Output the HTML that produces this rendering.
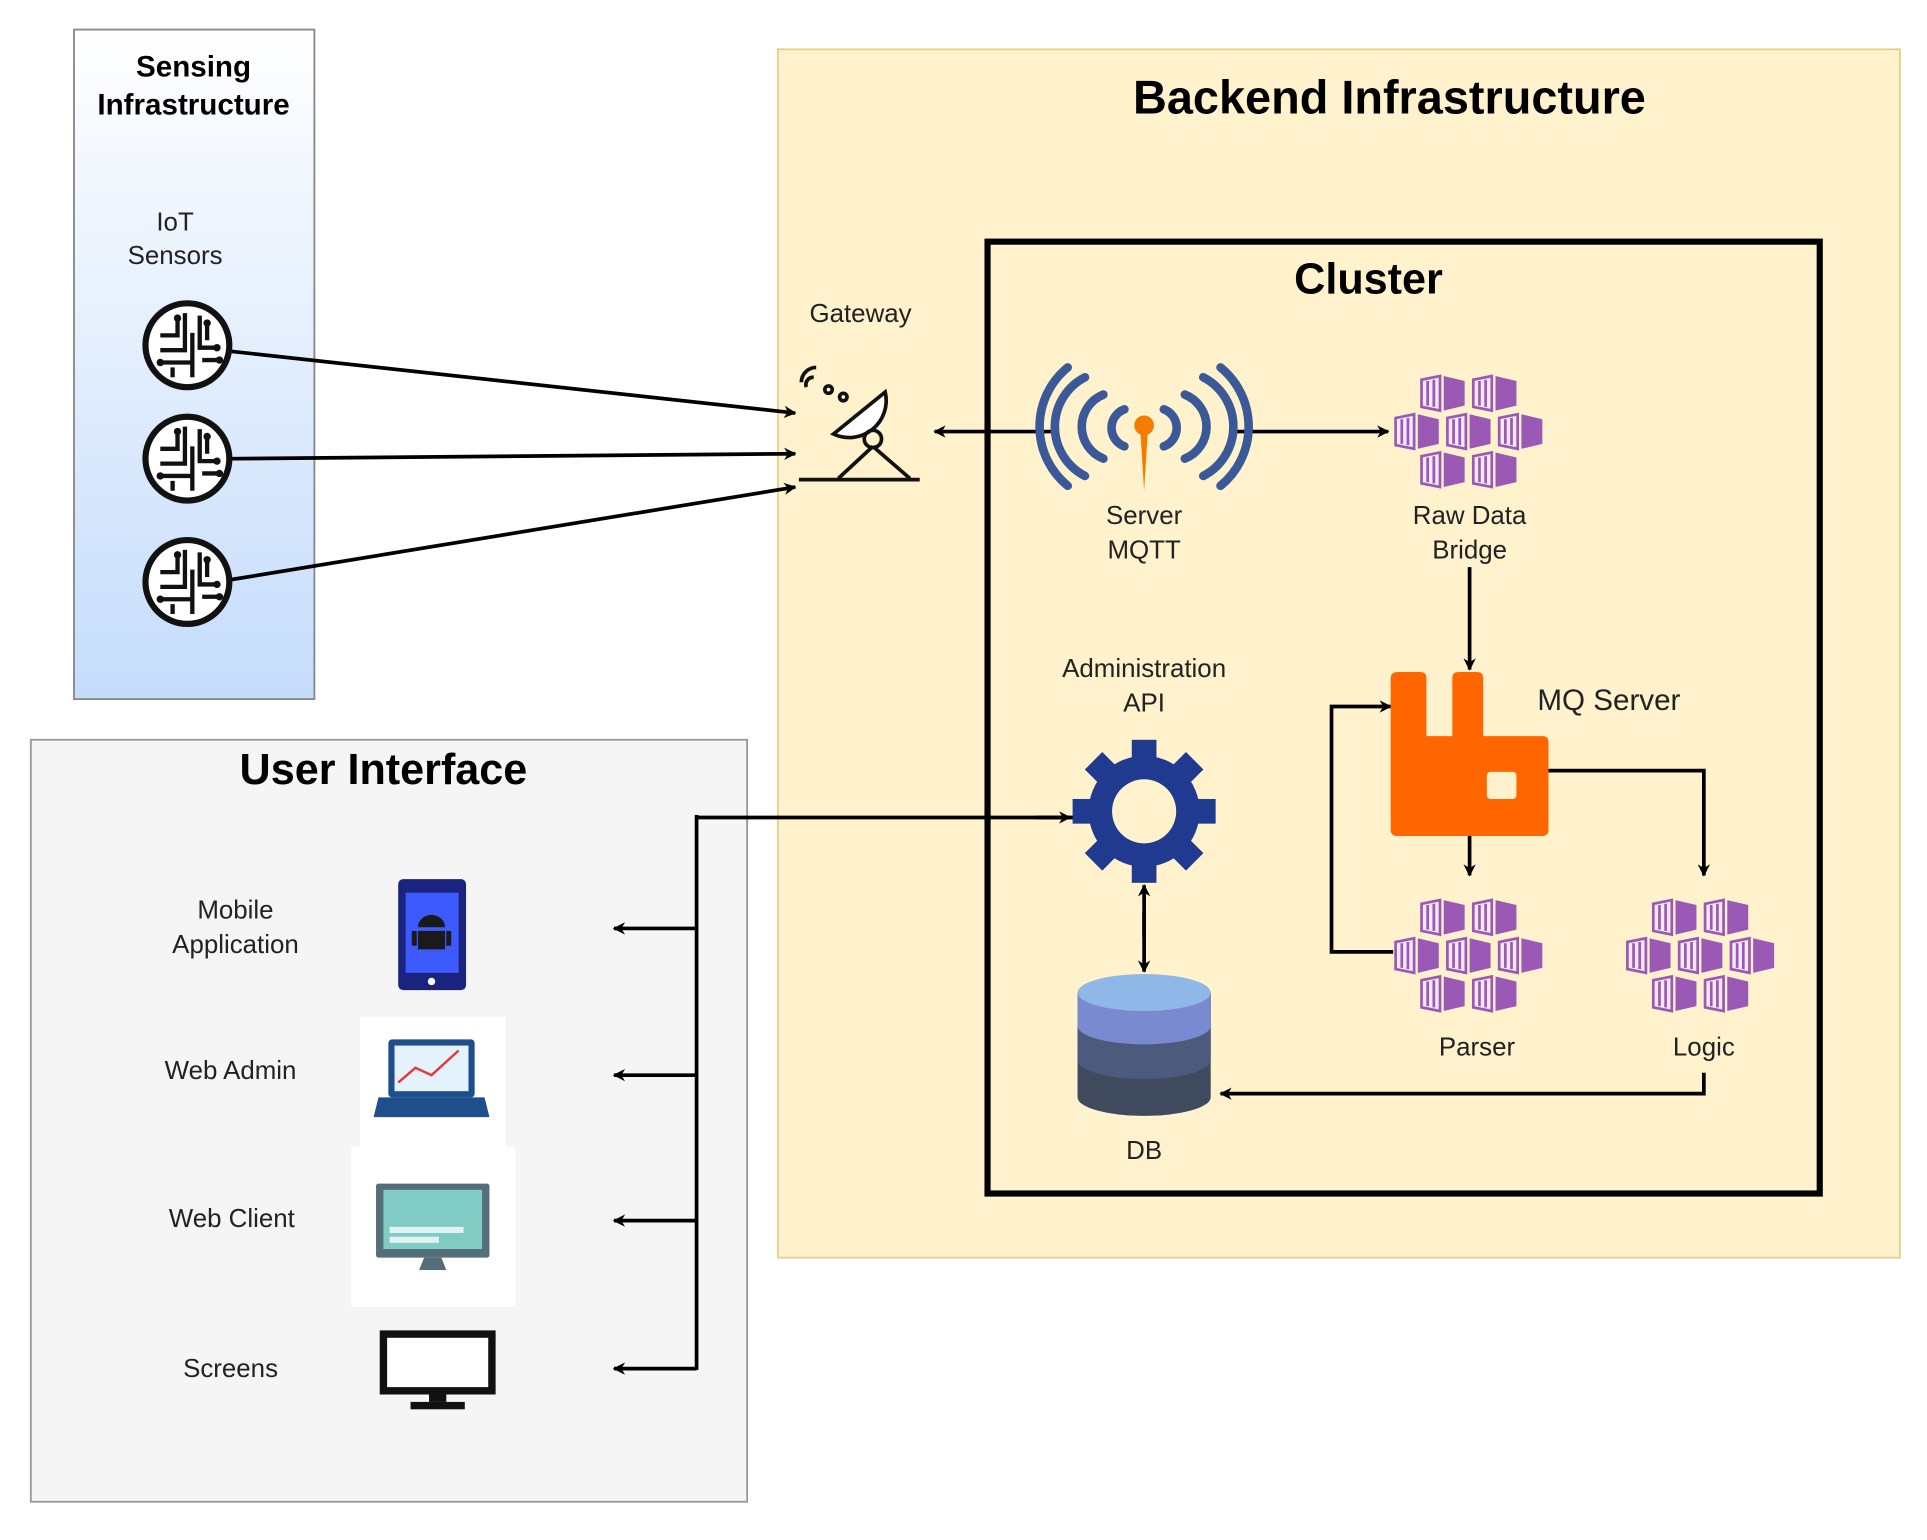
<!DOCTYPE html>
<html><head><meta charset="utf-8"><style>html,body{margin:0;padding:0;background:#fff}svg{display:block}</style></head>
<body>
<svg width="1927" height="1540" viewBox="0 0 1563 1249" preserveAspectRatio="none" xmlns="http://www.w3.org/2000/svg" font-family="Liberation Sans, Arial, sans-serif">
<defs>
<linearGradient id="g1" x1="0" y1="0" x2="0" y2="1"><stop offset="0" stop-color="#ffffff"/><stop offset="1" stop-color="#c5dcfb"/></linearGradient>
<marker id="ah" markerWidth="10" markerHeight="10" refX="9" refY="5" orient="auto" markerUnits="userSpaceOnUse" viewBox="0 0 10 10"><path d="M0,0 L10,5 L0,10 L3,5 z" fill="#000"/></marker>
<g id="cell">
<path d="M-18,-11 L-3,-14 L-3,14 L-18,11 Z" fill="#f5e8f8" stroke="#9b59b6" stroke-width="2.2"/>
<path d="M-13,-10 V10 M-8,-11 V11" stroke="#9b59b6" stroke-width="2.2"/>
<path d="M0,-14 L17,-10 L17,10 L0,14 Z" fill="#9b59b6"/>
</g>
<g id="hexes">
<use href="#cell" x="-21" y="-31"/>
<use href="#cell" x="21" y="-31"/>
<use href="#cell" x="-42" y="0"/>
<use href="#cell" x="0" y="0"/>
<use href="#cell" x="42" y="0"/>
<use href="#cell" x="-21" y="31"/>
<use href="#cell" x="21" y="31"/>
</g>
<g id="sensor">
<circle r="34" fill="#fff" stroke="#111" stroke-width="5"/>
<g stroke="#111" stroke-width="3.5" fill="none">
<path d="M-22,-8 H-8 V-20 M-22,4 H-2 V-26 M-20,14 H4 V-10 M10,-24 V2 H24 M16,-16 V-4 M4,10 V26 M12,12 H26 M-12,18 V26"/>
</g>
<g fill="#111"><circle cx="-8" cy="-22" r="3"/><circle cx="16" cy="-18" r="3"/><circle cx="24" cy="2" r="3"/><circle cx="26" cy="12" r="3"/><circle cx="-22" cy="14" r="3"/></g>
</g>
</defs>

<!-- Sensing -->
<rect x="60" y="24" width="195" height="543" fill="url(#g1)" stroke="#888" stroke-width="1.5"/>
<text x="157" y="62" font-size="24" font-weight="bold" text-anchor="middle">Sensing</text>
<text x="157" y="93" font-size="24" font-weight="bold" text-anchor="middle">Infrastructure</text>
<text x="142" y="187" font-size="21" text-anchor="middle" fill="#222">IoT</text>
<text x="142" y="214" font-size="21" text-anchor="middle" fill="#222">Sensors</text>
<use href="#sensor" x="152" y="280"/>
<use href="#sensor" x="152" y="372"/>
<use href="#sensor" x="152" y="472"/>

<!-- Backend -->
<rect x="631" y="40" width="910" height="980" fill="#fff2cc" stroke="#e6cf8a" stroke-width="1.5"/>
<text x="1127" y="92" font-size="38" font-weight="bold" text-anchor="middle">Backend Infrastructure</text>
<rect x="801" y="196" width="675" height="772" fill="none" stroke="#000" stroke-width="5"/>
<text x="1110" y="238" font-size="35" font-weight="bold" text-anchor="middle">Cluster</text>

<!-- User interface box (under connectors) -->
<rect x="25" y="600" width="581" height="618" fill="#f5f5f5" stroke="#999" stroke-width="1.5"/>
<text x="311" y="636" font-size="35" font-weight="bold" text-anchor="middle">User Interface</text>

<g stroke="#000" stroke-width="3" fill="none">
<line x1="188" y1="285" x2="645" y2="335" marker-end="url(#ah)"/>
<line x1="188" y1="372" x2="645" y2="368" marker-end="url(#ah)"/>
<line x1="188" y1="470" x2="645" y2="395" marker-end="url(#ah)"/>
<line x1="855" y1="350" x2="758" y2="350" marker-end="url(#ah)"/>
<line x1="1000" y1="350" x2="1126" y2="350" marker-end="url(#ah)"/>
<line x1="1192" y1="460" x2="1192" y2="543" marker-end="url(#ah)"/>
<polyline points="1256,625 1382,625 1382,710" marker-end="url(#ah)"/>
<line x1="1192" y1="678" x2="1192" y2="710" marker-end="url(#ah)"/>
<polyline points="1130,772 1080,772 1080,573 1128,573" marker-end="url(#ah)"/>
<polyline points="1382,870 1382,887 990,887" marker-end="url(#ah)"/>
<line x1="928" y1="740" x2="928" y2="788" marker-end="url(#ah)"/>
<line x1="928" y1="760" x2="928" y2="718" marker-end="url(#ah)"/>
<line x1="565" y1="663" x2="880" y2="663" marker-end="url(#ah)"/>
<line x1="840" y1="663" x2="868" y2="663" marker-end="url(#ah)"/>
<line x1="565" y1="661" x2="565" y2="1111"/>
<line x1="565" y1="753" x2="498" y2="753" marker-end="url(#ah)"/>
<line x1="565" y1="872" x2="498" y2="872" marker-end="url(#ah)"/>
<line x1="565" y1="990" x2="498" y2="990" marker-end="url(#ah)"/>
<line x1="565" y1="1110" x2="498" y2="1110" marker-end="url(#ah)"/>
</g>

<!-- Gateway -->
<text x="698" y="261" font-size="21" text-anchor="middle" fill="#222">Gateway</text>
<g stroke="#111" stroke-width="3" fill="none">
<path d="M676,352 L718,318 A30,30 0 0 1 676,352 Z" fill="#fff"/>
<circle cx="708" cy="356" r="7"/>
<path d="M708,362 L680,388 M708,362 L738,388 M648,389 H746"/>
<path d="M650,310 A12,12 0 0 1 662,298 M654,314 A6,6 0 0 1 660,306"/>
<circle cx="672" cy="316" r="3"/><circle cx="684" cy="322" r="3"/>
</g>

<!-- MQTT -->
<g stroke="#3b5998" stroke-width="7" fill="none" stroke-linecap="round">
<path d="M895,320 A28,28 0 0 0 895,372"/><path d="M880,306 A45,45 0 0 0 880,386"/><path d="M866,298 A62,62 0 0 0 866,394"/>
<path d="M961,320 A28,28 0 0 1 961,372"/><path d="M976,306 A45,45 0 0 1 976,386"/><path d="M990,298 A62,62 0 0 1 990,394"/>
<path d="M912,332 A16,16 0 0 0 912,362"/><path d="M944,332 A16,16 0 0 1 944,362"/>
</g>
<circle cx="928" cy="345" r="8" fill="#f57c00"/>
<path d="M925,350 L931,350 L928,398 Z" fill="#f57c00"/>
<text x="928" y="425" font-size="21" text-anchor="middle" fill="#222">Server</text>
<text x="928" y="453" font-size="21" text-anchor="middle" fill="#222">MQTT</text>

<!-- Raw data bridge -->
<use href="#hexes" x="1192" y="350"/>
<text x="1192" y="425" font-size="21" text-anchor="middle" fill="#222">Raw Data</text>
<text x="1192" y="453" font-size="21" text-anchor="middle" fill="#222">Bridge</text>

<!-- MQ server -->
<path d="M1134,545 H1152 Q1157,545 1157,550 V597 H1178 V550 Q1178,545 1183,545 H1198 Q1203,545 1203,550 V597 H1251 Q1256,597 1256,602 V673 Q1256,678 1251,678 H1133 Q1128,678 1128,673 V550 Q1128,545 1134,545 Z" fill="#ff6600"/>
<rect x="1206" y="626" width="24" height="22" rx="3" fill="#fff2cc"/>
<text x="1305" y="576" font-size="24" text-anchor="middle" fill="#222">MQ Server</text>

<use href="#hexes" x="1192" y="775"/>
<use href="#hexes" x="1380" y="775"/>
<text x="1198" y="856" font-size="21" text-anchor="middle" fill="#222">Parser</text>
<text x="1382" y="856" font-size="21" text-anchor="middle" fill="#222">Logic</text>

<!-- Admin API gear -->
<text x="928" y="549" font-size="21" text-anchor="middle" fill="#222">Administration</text>
<text x="928" y="577" font-size="21" text-anchor="middle" fill="#222">API</text>
<g transform="translate(928,658)" fill="#1f3a8f">
<circle r="45"/>
<g id="teeth"><rect x="-10" y="-58" width="20" height="20"/><rect x="-10" y="38" width="20" height="20"/><rect x="-58" y="-10" width="20" height="20"/><rect x="38" y="-10" width="20" height="20"/></g>
<use href="#teeth" transform="rotate(45)"/>
<circle r="26" fill="#fff2cc"/>
</g>

<!-- DB -->
<path d="M874,805 V890 A54,15 0 0 0 982,890 V805 Z" fill="#3f4a5e"/>
<path d="M874,805 V860 A54,15 0 0 0 982,860 V805 Z" fill="#4c5a7e"/>
<path d="M874,805 V832 A54,15 0 0 0 982,832 V805 Z" fill="#7a8ad0"/>
<ellipse cx="928" cy="805" rx="54" ry="15" fill="#8fb8e8"/>
<text x="928" y="940" font-size="21" text-anchor="middle" fill="#222">DB</text>

<text x="191" y="745" font-size="21" text-anchor="middle" fill="#222">Mobile</text>
<text x="191" y="773" font-size="21" text-anchor="middle" fill="#222">Application</text>
<text x="187" y="875" font-size="21" text-anchor="middle" fill="#222">Web Admin</text>
<text x="188" y="995" font-size="21" text-anchor="middle" fill="#222">Web Client</text>
<text x="187" y="1117" font-size="21" text-anchor="middle" fill="#222">Screens</text>

<!-- phone -->
<rect x="323" y="713" width="55" height="90" rx="4" fill="#1a237e"/>
<rect x="329" y="724" width="43" height="65" fill="#3d5afe"/>
<circle cx="350" cy="796" r="3" fill="#fff"/>
<path d="M339,752 A11,10 0 0 1 361,752 Z M339,755 H361 V770 H339 Z" fill="#1a1a1a"/>
<rect x="334" y="755" width="4" height="12" fill="#1a1a1a"/><rect x="362" y="755" width="4" height="12" fill="#1a1a1a"/>
<!-- laptop -->
<rect x="292" y="825" width="118" height="105" fill="#fff"/>
<rect x="315" y="843" width="70" height="47" rx="3" fill="#1e4e8c"/>
<rect x="320" y="848" width="60" height="37" fill="#e3f2fd"/>
<polyline points="323,878 337,866 350,872 372,852" stroke="#e53935" stroke-width="2" fill="none"/>
<path d="M307,890 H393 L397,906 H303 Z" fill="#1e4e8c"/>
<!-- monitor -->
<rect x="285" y="930" width="133" height="130" fill="#fff"/>
<rect x="305" y="960" width="92" height="60" rx="2" fill="#546e7a"/>
<rect x="311" y="965" width="80" height="48" fill="#80cbc4"/>
<rect x="316" y="995" width="60" height="5" fill="#e0f2f1"/>
<rect x="316" y="1003" width="40" height="5" fill="#e0f2f1"/>
<path d="M344,1020 H358 L362,1030 H340 Z" fill="#546e7a"/>
<!-- screen -->
<rect x="311" y="1082" width="88" height="46" fill="#fff" stroke="#111" stroke-width="6"/>
<rect x="348" y="1131" width="14" height="6" fill="#111"/>
<rect x="333" y="1137" width="44" height="6" fill="#111"/>
</svg>
</body></html>
